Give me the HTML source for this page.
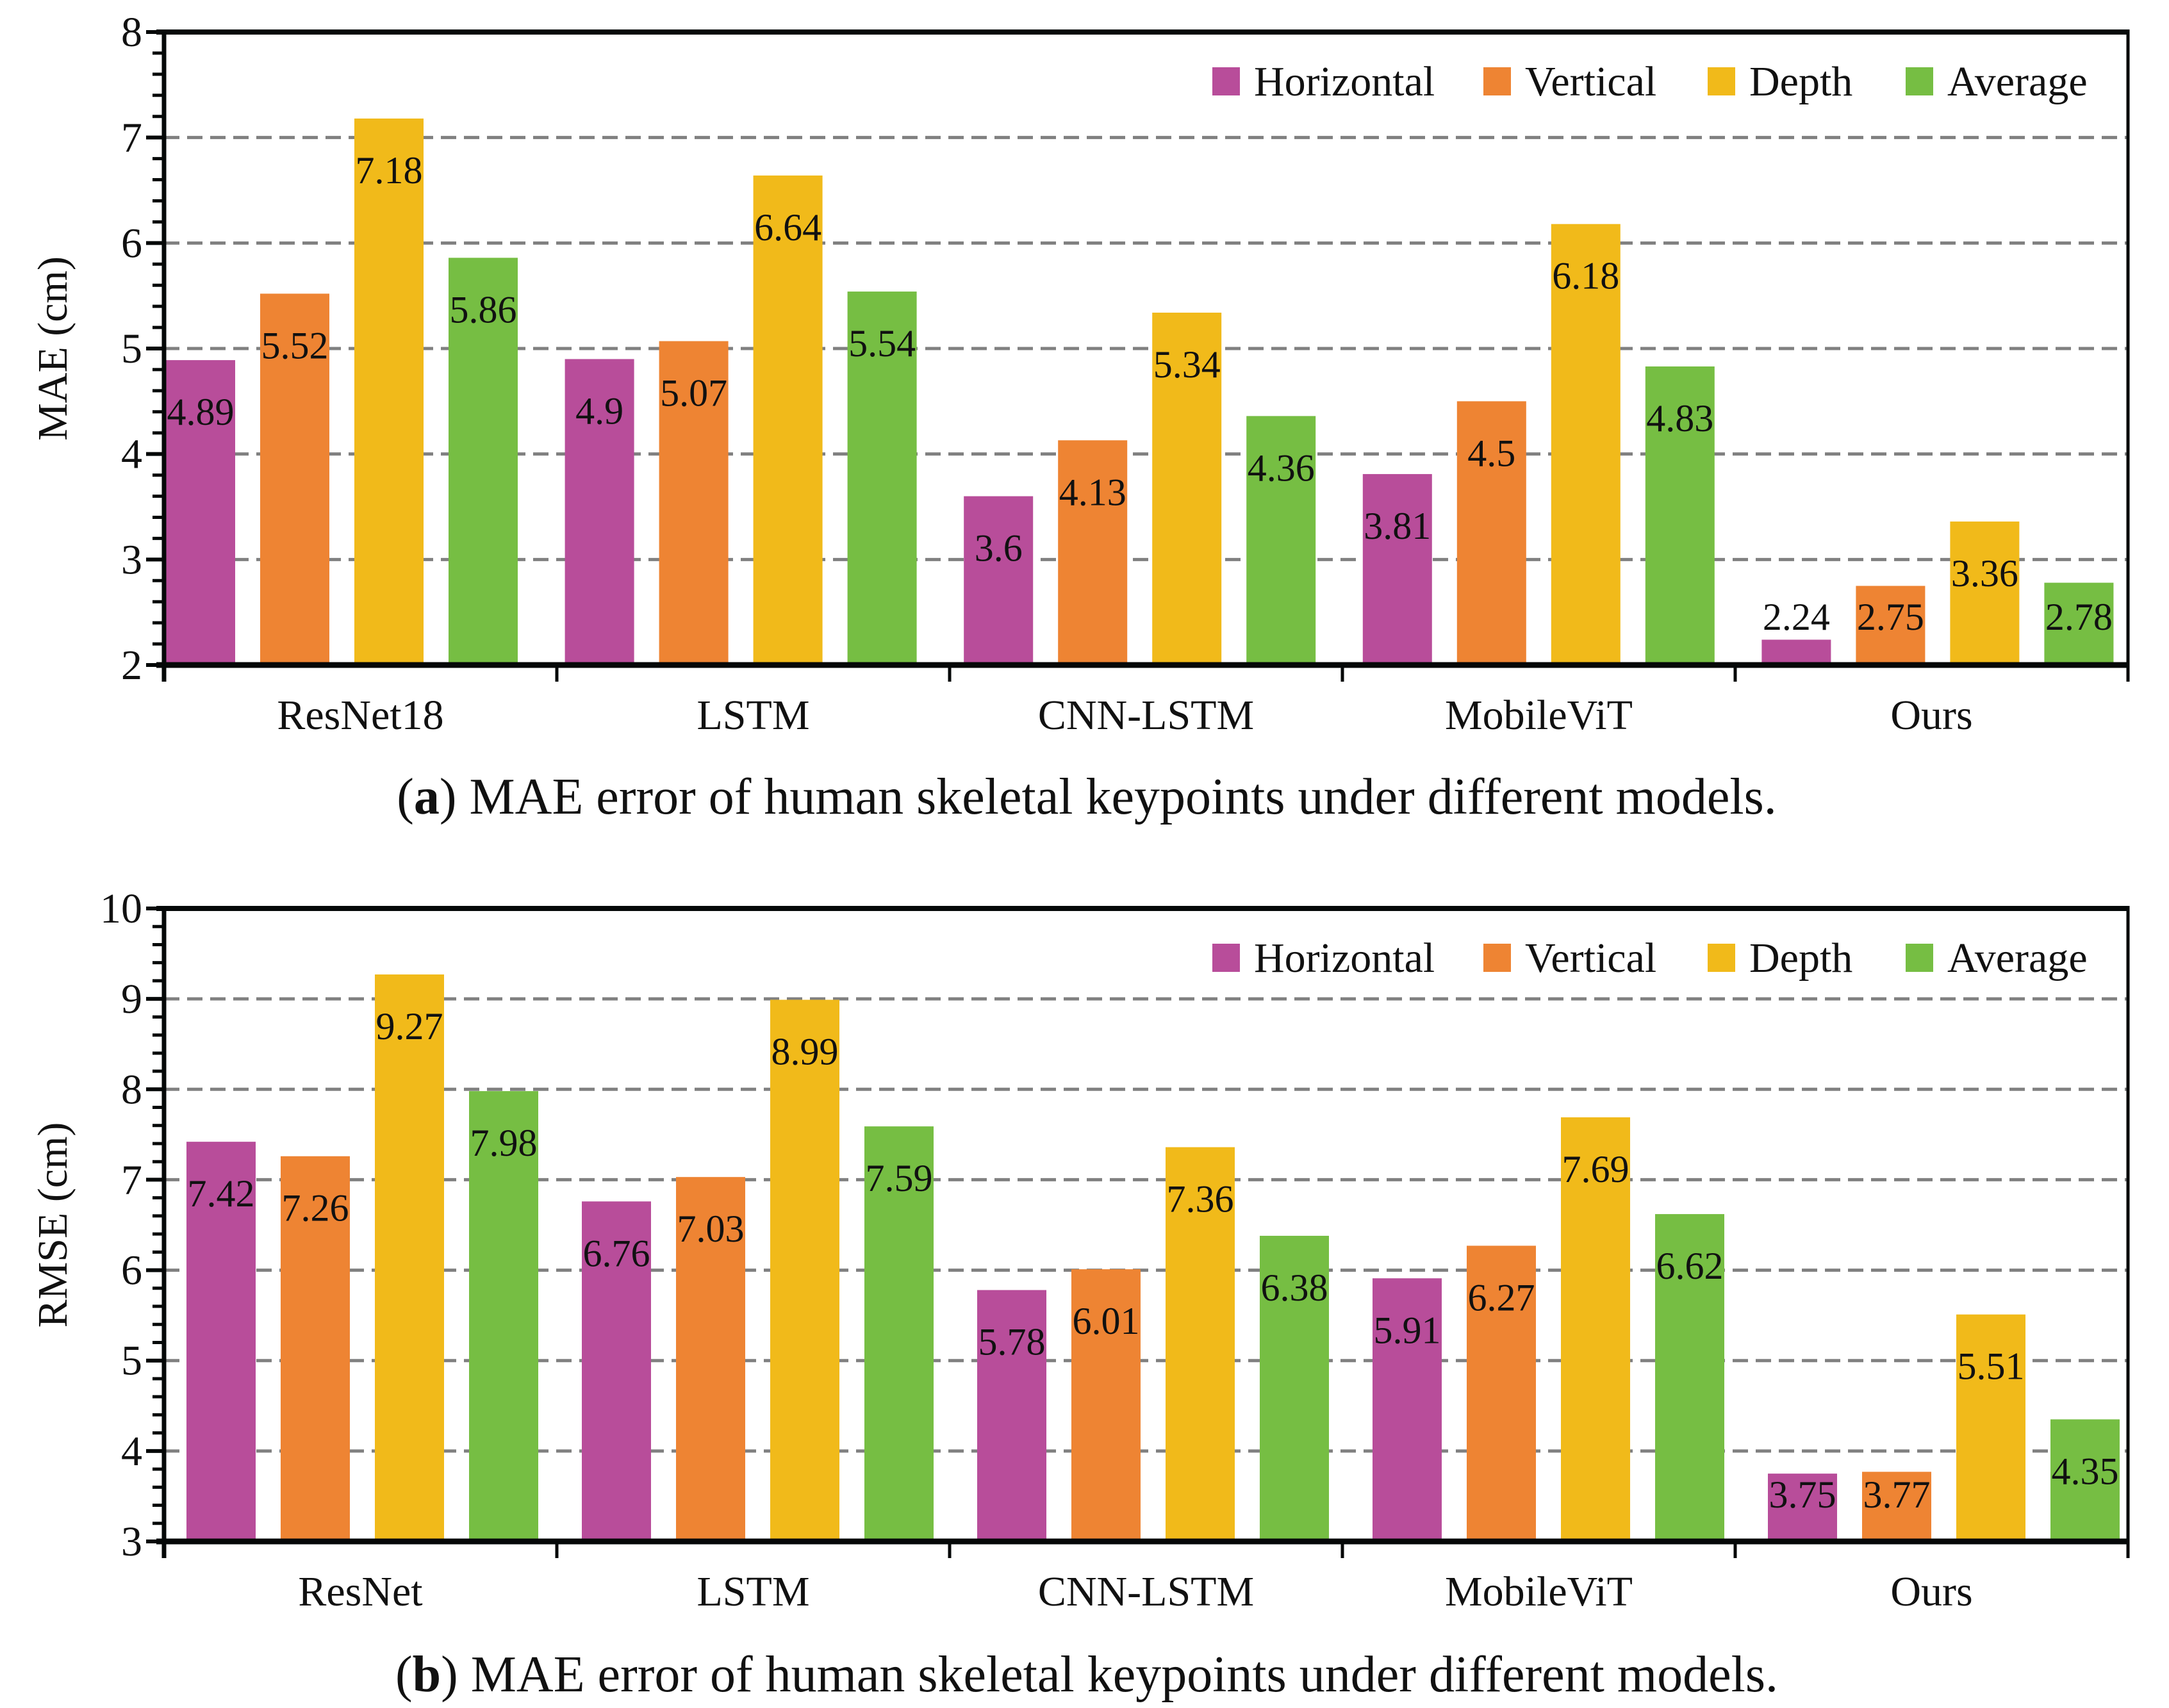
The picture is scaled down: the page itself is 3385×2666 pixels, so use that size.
<!DOCTYPE html>
<html><head><meta charset="utf-8"><style>
html,body{margin:0;padding:0;background:#fff;}
svg{display:block;}
</style></head><body>
<svg id="chart" width="3385" height="2666" viewBox="0 0 3385 2666" xmlns="http://www.w3.org/2000/svg" font-family="'Liberation Serif', serif"></svg>
<script>
const categoriesA = ["ResNet18","LSTM","CNN-LSTM","MobileViT","Ours"];
const categoriesB = ["ResNet","LSTM","CNN-LSTM","MobileViT","Ours"];
const seriesNames = ["Horizontal","Vertical","Depth","Average"];
const maeHorizontal = [4.89,4.9,3.6,3.81,2.24];
const maeVertical = [5.52,5.07,4.13,4.5,2.75];
const maeDepth = [7.18,6.64,5.34,6.18,3.36];
const maeAverage = [5.86,5.54,4.36,4.83,2.78];
const rmseHorizontal = [7.42,6.76,5.78,5.91,3.75];
const rmseVertical = [7.26,7.03,6.01,6.27,3.77];
const rmseDepth = [9.27,8.99,7.36,7.69,5.51];
const rmseAverage = [7.98,7.59,6.38,6.62,4.35];
const maeTicks = [2,3,4,5,6,7,8];
const rmseTicks = [3,4,5,6,7,8,9,10];

const NS="http://www.w3.org/2000/svg";
const svg=document.getElementById('chart');
const colors=["#B84D9A","#EE8433","#F1BA1A","#76BE43"];
const FF="'Liberation Serif', serif";
function mk(tag,attrs,parent){const e=document.createElementNS(NS,tag);for(const k in attrs)e.setAttribute(k,attrs[k]);if(tag==='text'){e.setAttribute('font-family',FF);e.setAttribute('fill','#111');}(parent||svg).appendChild(e);return e;}

function drawChart(cfg){
  const g=mk('g',{});
  
  
  const L=256,R=3321,T=cfg.top,B=cfg.bottom;
  const ymin=cfg.ticks[0],ymax=cfg.ticks[cfg.ticks.length-1];
  const y=v=>B-(v-ymin)/(ymax-ymin)*(B-T);
  const gw=(R-L)/cfg.cats.length;
  const xBar=(gi,si)=>cfg.barStart+gi*cfg.groupStep+si*147;
  cfg.ticks.forEach(t=>{
    if(t===ymin||t===ymax)return;
    const ln=mk('line',{x1:L,x2:R,y1:y(t),y2:y(t),stroke:'#808080','stroke-width':5,'stroke-dasharray':'24 12'},g);
    
    
  });
  cfg.series.forEach((arr,si)=>{
    arr.forEach((v,gi)=>{
      const x=xBar(gi,si);
      const r=mk('rect',{x:x,y:y(v),width:108,height:B-y(v),fill:colors[si]},g);
      
      
      const t=mk('text',{x:x+54,y:Math.min(y(v)+80,cfg.labelMax)+21,'text-anchor':'middle','font-size':60},g);
      t.textContent=String(v);
      
      
    });
  });
  const fr=mk('g',{},g);
  
  
  mk('line',{x1:L-12,x2:R+2,y1:T,y2:T,stroke:'#050808','stroke-width':8},fr);
  mk('line',{x1:R,x2:R,y1:T-4,y2:B+26,stroke:'#050808','stroke-width':5},fr);
  mk('line',{x1:L-12,x2:R+2,y1:B,y2:B,stroke:'#050808','stroke-width':9},fr);
  mk('line',{x1:L,x2:L,y1:T-4,y2:B+26,stroke:'#050808','stroke-width':7},fr);
  for(let i=1;i<cfg.cats.length;i++){
    mk('line',{x1:L+i*gw,x2:L+i*gw,y1:B,y2:B+26,stroke:'#050808','stroke-width':5},fr);
  }
  for(let k=0;k<cfg.ticks.length-1;k++){
    for(let m=1;m<5;m++){
      const v=cfg.ticks[k]+m*0.2*(cfg.ticks[k+1]-cfg.ticks[k]);
      mk('line',{x1:L-18,x2:L,y1:y(v),y2:y(v),stroke:'#050808','stroke-width':5},fr);
    }
  }
  cfg.ticks.forEach(t=>{
    mk('line',{x1:L-28,x2:L,y1:y(t),y2:y(t),stroke:'#050808','stroke-width':6},fr);
    const tx=mk('text',{x:L-34,y:y(t)+22,'text-anchor':'end','font-size':66},g);
    tx.textContent=String(t);
    
    
  });
  cfg.cats.forEach((c,i)=>{
    const tx=mk('text',{x:L+(i+0.5)*gw,y:B+100,'text-anchor':'middle','font-size':66},g);
    tx.textContent=c;
    
    
  });
  const yt=mk('text',{x:0,y:0,'text-anchor':'middle','font-size':66,transform:'translate(104,'+((T+B)/2)+') rotate(-90)'},g);
  yt.textContent=cfg.ytitle;
  
  
  const lx=[1892,2315,2665,2974];
  const ly=T+77;
  seriesNames.forEach((n,i)=>{
    const le=mk('g',{},g);
    
    
    mk('rect',{x:lx[i],y:ly-22,width:43,height:44,fill:colors[i]},le);
    const t=mk('text',{x:lx[i]+65,y:ly+22,'font-size':66},le);
    t.textContent=n;
  });
  const cap=mk('text',{x:1696,y:cfg.capY,'text-anchor':'middle','font-size':80},g);
  cap.innerHTML='(<tspan font-weight="bold">'+cfg.capLetter+'</tspan>) MAE error of human skeletal keypoints under different models.';
  
  
}

drawChart({name:'mae-chart',top:50,bottom:1038,ticks:maeTicks,cats:categoriesA,barStart:259,groupStep:622.6,
  series:[maeHorizontal,maeVertical,maeDepth,maeAverage],ytitle:'MAE (cm)',labelMax:962,capY:1270,capLetter:'a'});
drawChart({name:'rmse-chart',top:1418,bottom:2406,ticks:rmseTicks,cats:categoriesB,barStart:291,groupStep:617,
  series:[rmseHorizontal,rmseVertical,rmseDepth,rmseAverage],ytitle:'RMSE (cm)',labelMax:2332,capY:2640,capLetter:'b'});
</script>
</body></html>
